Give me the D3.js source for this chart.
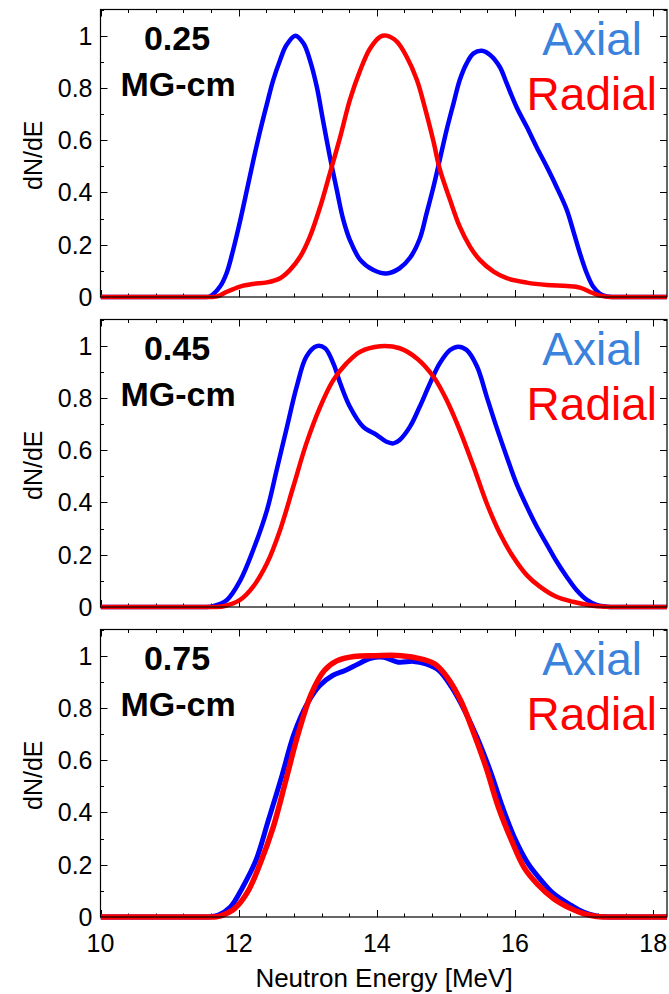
<!DOCTYPE html>
<html>
<head>
<meta charset="utf-8">
<script src="https://cdn.jsdelivr.net/npm/d3@7"></script>
<style>
  html, body { margin: 0; padding: 0; background: #fff; }
  svg { display: block; }
  text { font-family: "Liberation Sans", Arial, sans-serif; }
</style>
</head>
<body>
<svg id="chart" width="669" height="994"></svg>
<script>
// ---------------- DATA ----------------
const panelLabels = ["0.25", "0.45", "0.75"];
const unitLabel = "MG-cm";
const seriesNames = ["Axial", "Radial"];
const xTickValues = [10, 12, 14, 16, 18];
const yTickValues = [0, 0.2, 0.4, 0.6, 0.8, 1];
const yTickLabels = ["0", "0.2", "0.4", "0.6", "0.8", "1"];
const xTitle = "Neutron Energy [MeV]";
const yTitle = "dN/dE";

// [energy MeV, dN/dE]
const axial025 = [[10,0],[10.5,0],[11,0],[11.3,0],[11.48,0],[11.58,0.002],[11.73,0.04],[11.83,0.095],[11.92,0.18],[12.02,0.29],[12.12,0.41],[12.21,0.52],[12.31,0.635],[12.41,0.74],[12.5,0.83],[12.6,0.907],[12.69,0.963],[12.82,1.0],[12.94,0.97],[13.03,0.907],[13.13,0.805],[13.22,0.677],[13.32,0.537],[13.42,0.41],[13.51,0.3],[13.61,0.218],[13.76,0.142],[13.95,0.103],[14.14,0.09],[14.33,0.11],[14.48,0.15],[14.62,0.222],[14.72,0.32],[14.82,0.422],[14.91,0.524],[15.01,0.639],[15.11,0.741],[15.2,0.83],[15.3,0.894],[15.4,0.932],[15.52,0.942],[15.64,0.926],[15.78,0.88],[15.88,0.817],[16.02,0.728],[16.17,0.651],[16.31,0.575],[16.46,0.498],[16.6,0.422],[16.75,0.333],[16.84,0.256],[16.94,0.167],[17.04,0.09],[17.13,0.04],[17.23,0.012],[17.33,0.002],[17.45,0],[17.7,0],[18,0],[18.2,0]];
const radial025 = [[10,0],[10.5,0],[11,0],[11.4,0],[11.6,0],[11.7,0.003],[11.83,0.02],[12.02,0.04],[12.21,0.05],[12.41,0.056],[12.6,0.072],[12.74,0.103],[12.89,0.154],[13.03,0.23],[13.18,0.345],[13.32,0.473],[13.47,0.613],[13.61,0.754],[13.76,0.868],[13.9,0.95],[14.05,0.996],[14.14,1.0],[14.29,0.977],[14.43,0.92],[14.58,0.83],[14.7,0.72],[14.82,0.595],[14.91,0.49],[15.06,0.371],[15.2,0.269],[15.35,0.192],[15.49,0.142],[15.69,0.097],[15.88,0.072],[16.17,0.055],[16.46,0.046],[16.75,0.042],[16.94,0.036],[17.08,0.02],[17.23,0.005],[17.37,0],[17.6,0],[17.9,0],[18.2,0]];
const axial045 = [[10,0],[10.5,0],[11,0],[11.3,0],[11.5,0],[11.63,0.003],[11.83,0.027],[12.02,0.1],[12.21,0.218],[12.41,0.371],[12.55,0.524],[12.7,0.69],[12.84,0.843],[12.98,0.958],[13.13,0.998],[13.25,0.99],[13.37,0.932],[13.47,0.856],[13.61,0.766],[13.8,0.69],[14.0,0.658],[14.14,0.632],[14.24,0.626],[14.33,0.639],[14.48,0.69],[14.62,0.766],[14.77,0.856],[14.91,0.932],[15.06,0.983],[15.18,0.996],[15.3,0.983],[15.45,0.92],[15.59,0.805],[15.73,0.69],[15.88,0.575],[16.02,0.473],[16.17,0.385],[16.31,0.31],[16.46,0.24],[16.6,0.175],[16.75,0.115],[16.89,0.065],[17.04,0.027],[17.18,0.008],[17.33,0.001],[17.5,0],[17.8,0],[18.2,0]];
const radial045 = [[10,0],[10.5,0],[11,0],[11.4,0],[11.65,0],[11.8,0.004],[12.02,0.027],[12.21,0.078],[12.41,0.167],[12.6,0.295],[12.79,0.46],[12.98,0.626],[13.18,0.766],[13.37,0.868],[13.56,0.932],[13.76,0.977],[14.05,0.998],[14.33,0.99],[14.58,0.951],[14.82,0.881],[15.01,0.792],[15.2,0.677],[15.4,0.537],[15.59,0.397],[15.78,0.282],[15.97,0.193],[16.17,0.122],[16.36,0.078],[16.6,0.039],[16.84,0.02],[17.08,0.007],[17.33,0.001],[17.5,0],[17.8,0],[18.2,0]];
const axial075 = [[10,0],[10.5,0],[11,0],[11.3,0],[11.5,0],[11.6,0.001],[11.7,0.006],[11.88,0.038],[12.06,0.115],[12.25,0.217],[12.43,0.37],[12.62,0.535],[12.8,0.70],[12.99,0.815],[13.17,0.885],[13.36,0.924],[13.54,0.943],[13.73,0.968],[13.91,0.99],[14.1,0.994],[14.31,0.975],[14.53,0.978],[14.71,0.968],[14.9,0.943],[15.08,0.88],[15.27,0.79],[15.45,0.688],[15.64,0.56],[15.82,0.42],[16.01,0.293],[16.19,0.204],[16.38,0.14],[16.56,0.089],[16.81,0.045],[16.99,0.019],[17.18,0.004],[17.3,0.001],[17.5,0],[17.8,0],[18.2,0]];
const radial075 = [[10,0],[10.5,0],[11,0],[11.3,0],[11.55,0],[11.68,0.001],[11.76,0.006],[11.94,0.032],[12.13,0.096],[12.31,0.204],[12.5,0.344],[12.68,0.52],[12.86,0.70],[13.05,0.853],[13.24,0.943],[13.42,0.98],[13.67,0.997],[13.98,1.0],[14.35,1.0],[14.65,0.987],[14.84,0.968],[15.02,0.917],[15.21,0.83],[15.39,0.713],[15.58,0.573],[15.76,0.42],[15.95,0.293],[16.13,0.19],[16.32,0.127],[16.56,0.07],[16.81,0.032],[16.99,0.013],[17.18,0.002],[17.3,0],[17.5,0],[17.8,0],[18.2,0]];

const axialSeries = [axial025, axial045, axial075];
const radialSeries = [radial025, radial045, radial075];

// ---------------- LAYOUT ----------------
const svg = d3.select("#chart");
const left = 100.5, right = 667;
const panelTops = [9.5, 319.5, 629.5];
const panelH = 287.5;
const axialTextColor = "#3a82dc";
const axialLine = "#0000ff";
const radialColor = "#ff0000";

const x = d3.scaleLinear().domain([10, 18.2]).range([left, right]);

const xMinor = d3.range(10, 18.01, 0.4).map(v => +v.toFixed(2));
const yMinor = d3.range(0, 1.101, 0.1).map(v => +v.toFixed(2));

panelTops.forEach((top, i) => {
  const y = d3.scaleLinear().domain([0, 1.1]).range([top + panelH, top]);
  const g = svg.append("g");

  // ticks (inward, all four sides)
  const tk = g.append("g").attr("stroke", "#000").attr("stroke-width", 1);
  xMinor.forEach(v => {
    const major = xTickValues.some(m => Math.abs(m - v) < 1e-6);
    const L = major ? 7 : 3.5;
    const xp = Math.round(x(v)) + 0.5;
    tk.append("line").attr("x1", xp).attr("x2", xp).attr("y1", y(0)).attr("y2", y(0) - L);
    tk.append("line").attr("x1", xp).attr("x2", xp).attr("y1", y(1.1)).attr("y2", y(1.1) + L);
  });
  yMinor.forEach(v => {
    const major = yTickValues.some(m => Math.abs(m - v) < 1e-6);
    const L = major ? 7 : 3.5;
    const yp = Math.round(y(v)) + 0.5;
    tk.append("line").attr("y1", yp).attr("y2", yp).attr("x1", left).attr("x2", left + L);
    tk.append("line").attr("y1", yp).attr("y2", yp).attr("x1", right).attr("x2", right - L);
  });

  // y tick labels
  yTickValues.forEach((v, k) => {
    g.append("text").attr("x", left - 8).attr("y", y(v))
      .attr("text-anchor", "end").attr("dominant-baseline", "central")
      .attr("font-size", 25).attr("fill", "#000").text(yTickLabels[k]);
  });

  // y title
  g.append("text")
    .attr("transform", `translate(${33},${top + panelH / 2 + 2}) rotate(-90)`)
    .attr("text-anchor", "middle").attr("dominant-baseline", "central")
    .attr("font-size", 25).text(yTitle);

  // curves
  const line = d3.line().x(d => x(d[0])).y(d => y(d[1]))
    .curve(d3.curveCatmullRom.alpha(0.5));
  const clipId = "clip" + i;
  svg.append("clipPath").attr("id", clipId).append("rect")
    .attr("x", left).attr("y", top).attr("width", right - left).attr("height", panelH + 3);
  const cg = g.append("g").attr("clip-path", `url(#${clipId})`);
  cg.append("path").datum(axialSeries[i]).attr("d", line)
    .attr("fill", "none").attr("stroke", axialLine).attr("stroke-width", i === 2 ? 5 : 4.5)
    .attr("stroke-linejoin", "round");
  cg.append("path").datum(radialSeries[i]).attr("d", line)
    .attr("fill", "none").attr("stroke", radialColor).attr("stroke-width", i === 2 ? 5.5 : 4.5)
    .attr("stroke-linejoin", "round");

  // frame
  g.append("rect").attr("x", left).attr("y", top).attr("width", right - left).attr("height", panelH)
    .attr("fill", "none").attr("stroke", "#000").attr("stroke-width", 1.2);

  // panel labels
  g.append("text").attr("x", 177).attr("y", top + 40.5).attr("text-anchor", "middle")
    .attr("font-size", 34).attr("font-weight", "bold").text(panelLabels[i]);
  g.append("text").attr("x", 178).attr("y", top + 86).attr("text-anchor", "middle")
    .attr("font-size", 34).attr("font-weight", "bold").text(unitLabel);

  // legend texts
  g.append("text").attr("x", 642).attr("y", top + 45.5).attr("text-anchor", "end")
    .attr("font-size", 46).attr("fill", axialTextColor).text(seriesNames[0]);
  g.append("text").attr("x", 657).attr("y", top + 100.5).attr("text-anchor", "end")
    .attr("font-size", 46).attr("fill", radialColor).text(seriesNames[1]);
});

// x tick labels (bottom panel only)
xTickValues.forEach(v => {
  svg.append("text").attr("x", x(v)).attr("y", 952).attr("text-anchor", "middle")
    .attr("font-size", 25).text(String(v));
});
svg.append("text").attr("x", 384).attr("y", 987).attr("text-anchor", "middle")
  .attr("font-size", 26).text(xTitle);
</script>
</body>
</html>
